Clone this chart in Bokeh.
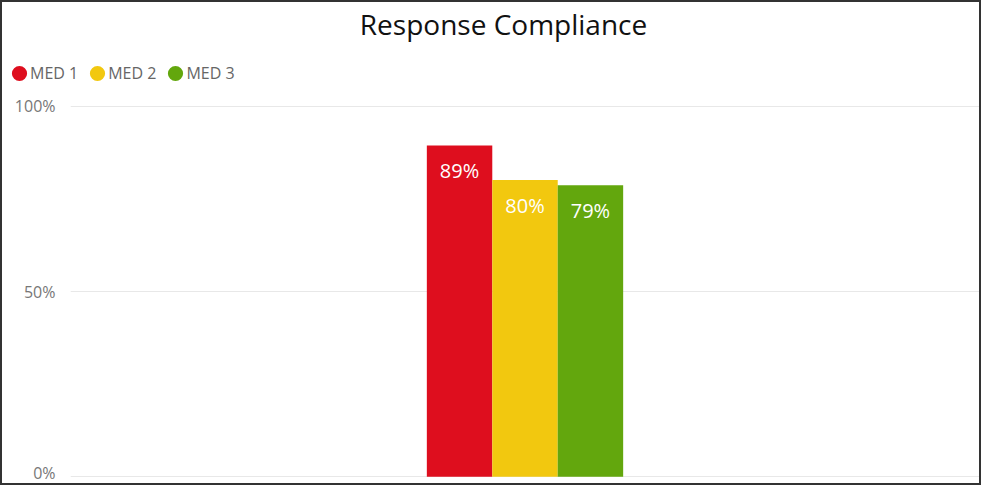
from bokeh.plotting import figure
from bokeh.models import (FactorRange, Range1d, ColumnDataSource, LabelSet, Label,
                          Legend, LegendItem, NumeralTickFormatter, FixedTicker)
from bokeh.embed import file_html
from bokeh.resources import INLINE
from bokeh.core.properties import value

title_text = "Response Compliance"
group = "All"
series = ["MED 1", "MED 2", "MED 3"]
values = [0.894, 0.801, 0.787]
colors = ["#DE0E1E", "#F2C80F", "#63A70D"]
y_ticks = [0, 0.5, 1.0]

factors = [(group, s) for s in series]
labels = [f"{round(v * 100)}%" for v in values]
BORDER = "2px solid #333333"

# ---- header: title + legend ----
hdr = figure(width=981, height=92, x_range=Range1d(0, 1), y_range=Range1d(0, 1),
             output_backend="svg", toolbar_location=None,
             x_axis_location=None, y_axis_location=None,
             min_border=0, min_border_left=0, min_border_right=0,
             min_border_top=0, min_border_bottom=0)
hdr.styles = {"border-top": BORDER, "border-left": BORDER, "border-right": BORDER}
hdr.outline_line_color = None
hdr.grid.visible = False
hdr.add_layout(Label(x=501, y=71, x_units="screen", y_units="screen", text=title_text,
                     text_align="center", text_baseline="middle",
                     text_font="Open Sans", text_font_size="28px", text_color="#111111"))
items = []
for s, c in zip(series, colors):
    r = hdr.scatter(x=[float("nan")], y=[float("nan")], marker="circle",
                    fill_color=c, line_color=c, line_width=8, size=7)
    items.append(LegendItem(label=s, renderers=[r]))
legend = Legend(items=items, location=(8, 10), orientation="horizontal",
                padding=0, margin=0, border_line_color=None, background_fill_alpha=0,
                glyph_width=18, glyph_height=18, label_standoff=2, spacing=10,
                label_text_font="Open Sans", label_text_font_size="16px",
                label_text_color="#666666", label_text_baseline="middle")
hdr.add_layout(legend, "center")

# ---- main chart ----
src = ColumnDataSource(dict(x=factors, top=values, color=colors, label=labels))

p = figure(width=981, height=393,
           x_range=FactorRange(*factors, range_padding=3.63, factor_padding=0, group_padding=0),
           y_range=Range1d(-0.005, 1.005),
           output_backend="svg", toolbar_location=None, x_axis_location=None,
           min_border_left=68, min_border_right=4, min_border_top=12, min_border_bottom=7)
p.styles = {"border-bottom": BORDER, "border-left": BORDER, "border-right": BORDER}
p.outline_line_color = None
p.background_fill_color = "white"
p.border_fill_color = "white"

p.vbar(x="x", top="top", bottom=0, width=1.0, color="color", source=src, line_color=None)

p.add_layout(LabelSet(x="x", y="top", text="label", source=src, y_offset=-25,
                      text_align="center", text_baseline="middle",
                      text_color="white", text_font_size="20px",
                      text_font=value("Open Sans")))

p.xgrid.visible = False
p.yaxis.ticker = FixedTicker(ticks=y_ticks)
p.yaxis.formatter = NumeralTickFormatter(format="0%")
p.yaxis.axis_line_color = None
p.yaxis.major_tick_line_color = None
p.yaxis.minor_tick_line_color = None
p.yaxis.major_tick_out = 0
p.yaxis.major_tick_in = 0
p.yaxis.major_label_standoff = 15
p.yaxis.major_label_text_font = "Open Sans"
p.yaxis.major_label_text_font_size = "16px"
p.yaxis.major_label_text_color = "#777777"
p.ygrid.ticker = FixedTicker(ticks=y_ticks)
p.ygrid.grid_line_color = "#E8E8E8"

open("out.html", "w").write(file_html([hdr, p], INLINE))
